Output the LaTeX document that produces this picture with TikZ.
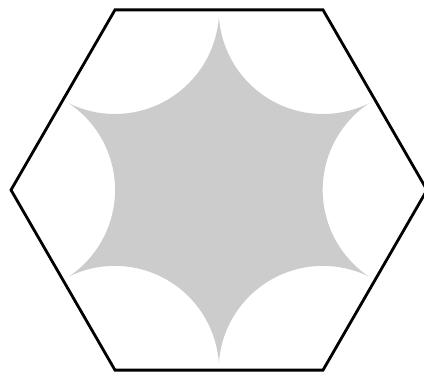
\documentclass[tikz,border=0pt]{standalone}
\usepackage{tikz}
\usetikzlibrary{calc}
\definecolor{stargray}{RGB}{204,204,204}

\begin{document}
\begin{tikzpicture}[x=0.025cm, y=0.025cm, thick]
  \useasboundingbox (-219,-186) rectangle (205,190);
  % corners of the hexagon
  \foreach \k in {0,...,5} {
    \coordinate (v\k) at (60*\k:208);
  }
  % star cut by the six corner circles
  \fill[stargray] (-30:173)
    \foreach \k in {0,...,5} {
      arc[start angle=60*\k+236.1, end angle=60*\k+123.9, radius=104.3]
    } -- cycle;
  % outline
  \draw[line width=2pt] (v0) -- (v1) -- (v2) -- (v3) -- (v4) -- (v5) -- cycle;
\end{tikzpicture}
\end{document}
